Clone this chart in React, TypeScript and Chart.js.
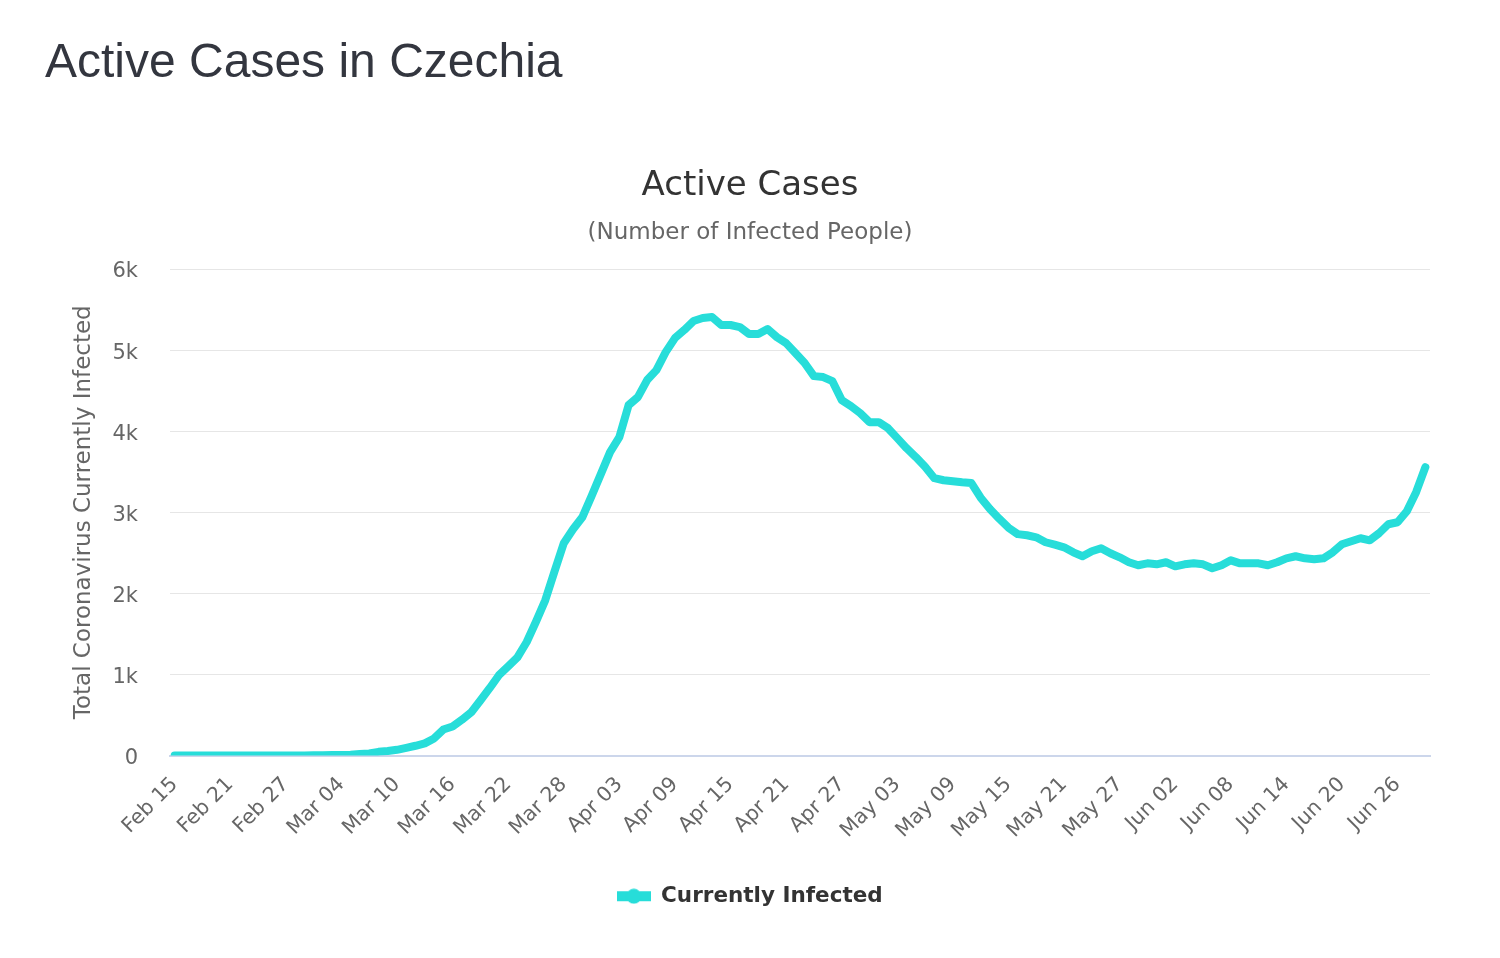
import React, { useEffect, useRef } from 'react';
import { Chart, registerables } from 'chart.js';

Chart.register(...registerables);

const FONT = '"DejaVu Sans", "Open Sans", sans-serif';
const LINE_COLOR = '#27ddd9';

// Categories: daily from Feb 15 to Jun 29 (2020)
const MONTH_NAMES = ['Feb', 'Mar', 'Apr', 'May', 'Jun'];
const MONTH_DAYS = [29, 31, 30, 31, 30];
const FIRST_DAY = 15;
const LAST_DAY = 29;
const TICK_EVERY = 6;

const categories: string[] = [];
MONTH_NAMES.forEach((m, mi) => {
  const from = mi === 0 ? FIRST_DAY : 1;
  const to = mi === MONTH_NAMES.length - 1 ? LAST_DAY : MONTH_DAYS[mi];
  for (let d = from; d <= to; d++) categories.push(m + ' ' + String(d).padStart(2, '0'));
});

// Currently infected (active cases)
const activeCases: number[] = [
  0, 0, 0, 0, 0, 0, 0, 0, 0, 0, 0, 0, 0, 0, 0,
  3, 3, 5, 5, 8, 19, 26, 45, 55, 70, 95, 120, 150, 210, 320,
  358, 440, 531, 679, 830, 990, 1100, 1210, 1400, 1650,
  1914, 2270, 2617, 2790, 2938, 3200, 3470, 3741, 3926, 4321,
  4420, 4630, 4753, 4975, 5148, 5247, 5358, 5395, 5407, 5309,
  5309, 5284, 5198, 5198, 5259, 5160, 5086, 4963, 4840, 4679,
  4667, 4617, 4383, 4309, 4222, 4111, 4111, 4037, 3914, 3790,
  3680, 3560, 3420, 3395, 3383, 3370, 3360, 3180, 3040, 2920,
  2810, 2730, 2716, 2691, 2630, 2600, 2568, 2506, 2457, 2519,
  2556, 2494, 2444, 2383, 2346, 2370, 2358, 2383, 2333, 2358,
  2370, 2358, 2309, 2346, 2407, 2370, 2370, 2370, 2346, 2383,
  2432, 2457, 2432, 2420, 2432, 2506, 2605, 2642, 2679, 2654,
  2741, 2852, 2877, 3012, 3247, 3556,
];

const Y_MIN = 0;
const Y_MAX = 6000;
const Y_STEP = 1000;

function makeLegendSymbol(): HTMLCanvasElement {
  const c = document.createElement('canvas');
  c.width = 34;
  c.height = 16;
  const ctx = c.getContext('2d')!;
  ctx.fillStyle = LINE_COLOR;
  ctx.fillRect(0, 3, 34, 10);
  ctx.beginPath();
  ctx.arc(17, 8, 7.5, 0, Math.PI * 2);
  ctx.fill();
  return c;
}

export default function App() {
  const ref = useRef<HTMLCanvasElement | null>(null);

  useEffect(() => {
    if (!ref.current) return;
    const symbol = makeLegendSymbol();
    const chart = new Chart(ref.current, {
      type: 'line',
      data: {
        labels: categories,
        datasets: [
          {
            label: 'Currently Infected',
            data: activeCases,
            borderColor: LINE_COLOR,
            backgroundColor: LINE_COLOR,
            borderWidth: 8,
            borderCapStyle: 'round',
            borderJoinStyle: 'round',
            pointRadius: 0,
            pointHoverRadius: 0,
            tension: 0,
            fill: false,
          },
        ],
      },
      options: {
        responsive: false,
        animation: false,
        devicePixelRatio: 1,
        layout: { padding: { top: 0, left: 0, right: 0, bottom: 41 } },
        plugins: {
          title: {
            display: true,
            text: 'Active Cases',
            color: '#333333',
            font: { family: FONT, size: 34, weight: 'normal', lineHeight: 1.2 },
            padding: { top: 166, bottom: 0 },
          },
          subtitle: {
            display: true,
            text: '(Number of Infected People)',
            color: '#666666',
            font: { family: FONT, size: 23, weight: 'normal', lineHeight: 1.2 },
            padding: { top: 12, bottom: 22.6 },
          },
          legend: {
            position: 'bottom',
            labels: {
              usePointStyle: true,
              pointStyleWidth: 33,
              padding: 30,
              color: '#333333',
              font: { family: FONT, size: 21.5, weight: 'bold' },
              generateLabels: () => [
                {
                  text: 'Currently Infected',
                  fillStyle: LINE_COLOR,
                  strokeStyle: LINE_COLOR,
                  lineWidth: 0,
                  pointStyle: symbol,
                  hidden: false,
                  datasetIndex: 0,
                  fontColor: '#333333',
                } as any,
              ],
            },
          },
          tooltip: { enabled: false },
        },
        scales: {
          x: {
            type: 'category',
            offset: true,
            grid: { display: false },
            border: { display: true, color: '#ccd6eb', width: 2 },
            ticks: {
              autoSkip: false,
              maxRotation: 45,
              minRotation: 45,
              color: '#666666',
              font: { family: FONT, size: 20.5 },
              padding: 9,
              callback: function (this: any, val: any, idx: number) {
                return idx % TICK_EVERY === 0 ? this.getLabelForValue(val) : '';
              },
            },
            afterFit: (s: any) => {
              s.height = 100;
            },
          },
          y: {
            min: Y_MIN,
            max: Y_MAX,
            ticks: {
              stepSize: Y_STEP,
              color: '#666666',
              font: { family: FONT, size: 21 },
              padding: 32,
              labelOffset: 3,
              callback: (v: any) => (v === 0 ? '0' : v / 1000 + 'k'),
            },
            grid: {
              drawTicks: false,
              lineWidth: 1,
              color: (ctx: any) => (ctx.tick && ctx.tick.value === 0 ? 'rgba(0,0,0,0)' : '#e6e6e6'),
            },
            border: { display: false },
            title: {
              display: true,
              text: 'Total Coronavirus Currently Infected',
              color: '#666666',
              font: { family: FONT, size: 23, lineHeight: 1.2 },
              padding: { top: 70, bottom: 0 },
            },
            afterFit: (s: any) => {
              s.width = 170;
            },
          },
          yRight: {
            position: 'right',
            display: true,
            grid: { display: false },
            border: { display: false },
            ticks: { display: false },
            afterFit: (s: any) => {
              s.width = 70;
            },
          },
        },
      } as any,
    });
    return () => chart.destroy();
  }, []);

  return (
    <div style={{ position: 'relative', width: 1500, height: 958, overflow: 'hidden', background: '#fff' }}>
      <style>{'body{margin:0;}'}</style>
      <div
        style={{
          position: 'absolute',
          left: 45,
          top: 37,
          fontFamily: '"Liberation Sans", Arial, sans-serif',
          fontSize: 48,
          lineHeight: '48px',
          color: '#33363f',
          whiteSpace: 'nowrap',
          zIndex: 1,
        }}
      >
        Active Cases in Czechia
      </div>
      <canvas ref={ref} width={1500} height={958} style={{ position: 'absolute', left: 0, top: 0 }} />
    </div>
  );
}
